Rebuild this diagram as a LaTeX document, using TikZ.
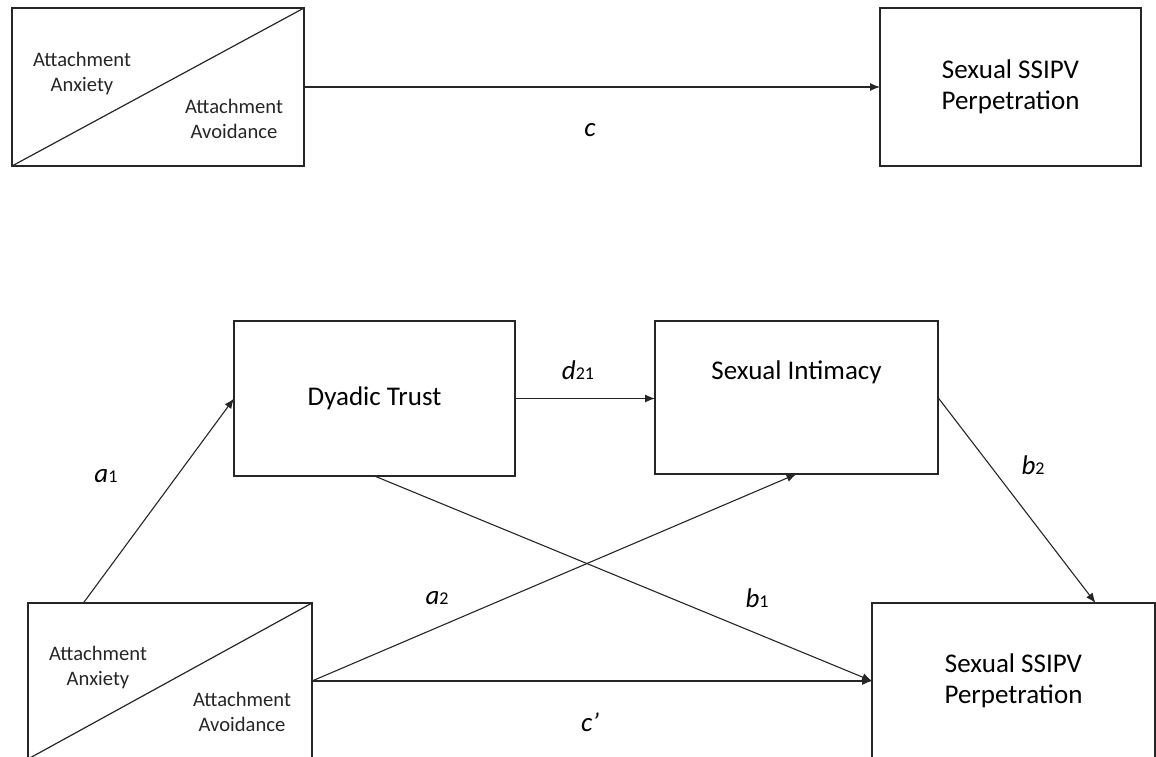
\documentclass[tikz,border=0pt]{standalone}
\usepackage{fontspec}
\setmainfont{Carlito}
\usetikzlibrary{arrows.meta,calc}

\newcommand{\pathsub}[1]{{\upshape\fontsize{9}{9}\selectfont #1}}

\begin{document}
\begin{tikzpicture}[x=0.5pt, y=-0.5pt,
  varbox/.style={draw=black!85, line width=0.6pt, inner sep=0pt, outer sep=0pt,
    align=center, font=\fontsize{13.5}{15.5}\selectfont},
  atttext/.style={align=center, font=\fontsize{10.3}{12.5}\selectfont, text=black!85},
  pathlbl/.style={font=\fontsize{13.5}{15}\selectfont\itshape},
  arr/.style={draw=black!85, line width=0.55pt, -{Latex[length=5pt,width=4pt]}}]
  \useasboundingbox (0,0) rectangle (1156,756);

  % Total effect model
  \node[varbox, minimum width=146pt, minimum height=79pt] (anxTop) at (158,87) {};
  \node[varbox, minimum width=130.5pt, minimum height=79pt] (perpTop) at (1010.5,87) {Sexual SSIPV\\Perpetration};
  \draw[black!85, line width=0.6pt] (anxTop.south west) -- (anxTop.north east);
  \node[atttext] (anxTopA) at ($(anxTop.north west)+(70,66)$) {Attachment\\Anxiety};
  \node[atttext] (anxTopB) at ($(anxTop.north east)+(-70,111)$) {Attachment\\Avoidance};

  \draw[arr] (anxTop.east) -- (perpTop.west);
  \node[pathlbl] (lblc) at (590,130) {c};

  % Serial mediation model
  \node[varbox, minimum width=140.5pt, minimum height=77.5pt] (trust) at (374.5,398.5) {Dyadic Trust};
  \node[varbox, minimum width=141.5pt, minimum height=76.5pt,
    label={[font=\fontsize{13.5}{15.5}\selectfont, yshift=12.5pt]center:Sexual Intimacy}] (intimacy) at (796.5,397.5) {};
  \node[varbox, minimum width=142pt, minimum height=78pt] (anxBot) at (170,681) {};
  \node[varbox, minimum width=141.5pt, minimum height=78pt] (perpBot) at (1013.5,681) {Sexual SSIPV\\Perpetration};
  \draw[black!85, line width=0.6pt] (anxBot.south west) -- (anxBot.north east);
  \node[atttext] (anxBotA) at ($(anxBot.north west)+(70,64)$) {Attachment\\Anxiety};
  \node[atttext] (anxBotB) at ($(anxBot.north east)+(-70,109)$) {Attachment\\Avoidance};

  % Paths
  \draw[arr] ($(anxBot.north west)!0.195!(anxBot.north east)$) -- (trust.west);
  \draw[arr] (trust.east) -- (trust.east -| intimacy.west);
  \draw[arr] (intimacy.east) -- ($(perpBot.north west)!0.79!(perpBot.north east)$);
  \draw[arr] (anxBot.east) -- (intimacy.south);
  \draw[arr] (trust.south) -- (perpBot.west);
  \draw[arr] (anxBot.east) -- (perpBot.west);

  % Path labels
  \node[pathlbl] (lbla1) at (106,476) {a\pathsub{1}};
  \node[pathlbl] (lbld21) at (578,370) {d\pathsub{21}};
  \node[pathlbl] (lbla2) at (437,598) {a\pathsub{2}};
  \node[pathlbl] (lblb1) at (757,598) {b\pathsub{1}};
  \node[pathlbl] (lblb2) at (1033,465) {b\pathsub{2}};
  \node[pathlbl] (lblcp) at (590,722) {c’};
\end{tikzpicture}
\end{document}
